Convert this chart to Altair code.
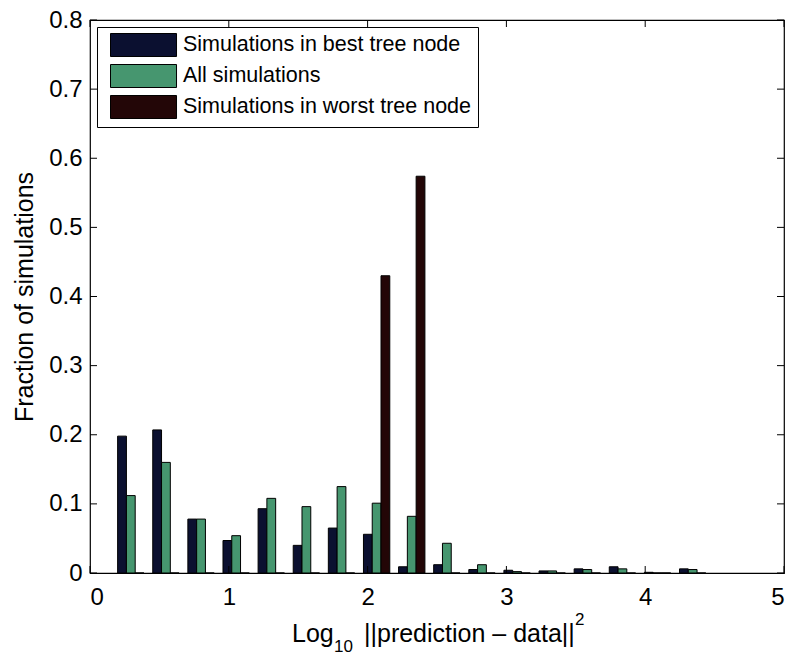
import altair as alt
import pandas as pd

# Histogram bin centres (log10 of squared error)
bin_centers = [0.294, 0.547, 0.800, 1.053, 1.306, 1.559, 1.812, 2.065, 2.318,
               2.571, 2.824, 3.077, 3.330, 3.583, 3.836, 4.089, 4.342]

# Fraction of simulations falling in each bin
best_node = [0.198, 0.207, 0.078, 0.047, 0.093, 0.040, 0.065, 0.056, 0.009,
             0.012, 0.005, 0.004, 0.003, 0.006, 0.009, 0.001, 0.006]
all_sims = [0.112, 0.160, 0.078, 0.054, 0.108, 0.096, 0.125, 0.101, 0.082,
            0.043, 0.012, 0.002, 0.003, 0.005, 0.006, 0.000, 0.005]
worst_node = [0.0, 0.0, 0.0, 0.0, 0.0, 0.0, 0.0, 0.430, 0.574,
              0.0, 0.0, 0.0, 0.0, 0.0, 0.0, 0.0, 0.0]

series_names = ["Simulations in best tree node", "All simulations",
                "Simulations in worst tree node"]
series_colors = ["#0b1030", "#46966f", "#230607"]

x_ticks = [0, 1, 2, 3, 4, 5]
y_ticks = [0, 0.1, 0.2, 0.3, 0.4, 0.5, 0.6, 0.7, 0.8]

# grouped bars: each bar is a quarter of the bin spacing wide
bin_step = bin_centers[1] - bin_centers[0]
bar_w = bin_step / 4.0
rows = []
for k, c in enumerate(bin_centers):
    for j, (name, vals) in enumerate(zip(series_names, [best_node, all_sims, worst_node])):
        left = c + (j - 1.5) * bar_w
        rows.append({"x0": left, "x1": left + bar_w, "value": vals[k],
                     "series": name, "order": j})
bars_df = pd.DataFrame(rows)

W, H = 694, 553
FONT = "Liberation Sans"

x_scale = alt.Scale(domain=[0, 5], nice=False, zero=False)
y_scale = alt.Scale(domain=[0, 0.8], nice=False)

# legend swatch: wide rectangle (66 x 23 px) drawn from a 23 px symbol
SW = 23
swatch_path = "M-0.39,-1H5.35V1H-0.39Z"

bars = alt.Chart(bars_df).mark_bar(stroke="black", strokeWidth=1).encode(
    x=alt.X("x0:Q", scale=x_scale,
            axis=alt.Axis(values=x_ticks, format="d", ticks=False, domain=False,
                          grid=False, labelFontSize=24, labelFont=FONT,
                          labelColor="black", labelPadding=12, title=None)),
    x2="x1:Q",
    y=alt.Y("value:Q", scale=y_scale,
            axis=alt.Axis(values=y_ticks, format=".1~f", ticks=False, domain=False,
                          grid=False, labelFontSize=24, labelFont=FONT,
                          labelColor="black", labelPadding=8,
                          title="Fraction of simulations",
                          titleFontSize=25, titleFont=FONT, titleFontWeight="normal",
                          titleColor="black", titlePadding=11)),
    y2=alt.datum(0),
    color=alt.Color("series:N",
                    scale=alt.Scale(domain=series_names, range=series_colors),
                    legend=alt.Legend(
                        title=None, orient="none", legendX=7, legendY=7,
                        symbolType=swatch_path, symbolSize=SW * SW,
                        symbolStrokeColor="black", symbolStrokeWidth=1,
                        symbolOpacity=1,
                        labelFontSize=21.5, labelFont=FONT, labelColor="black",
                        labelOffset=56, rowPadding=3, padding=6,
                        strokeColor="black", fillColor="white",
                        labelLimit=400)),
    order=alt.Order("order:Q"),
)

# inward tick marks on all four sides, as in a boxed plot
xt = pd.DataFrame({"t": x_ticks})
yt = pd.DataFrame({"t": y_ticks})
tick_len = 7
x_bottom = alt.Chart(xt).mark_rule(color="black").encode(
    x=alt.X("t:Q", scale=x_scale), y=alt.value(H), y2=alt.value(H - tick_len))
x_top = alt.Chart(xt).mark_rule(color="black").encode(
    x=alt.X("t:Q", scale=x_scale), y=alt.value(0), y2=alt.value(tick_len))
y_left = alt.Chart(yt).mark_rule(color="black").encode(
    y=alt.Y("t:Q", scale=y_scale), x=alt.value(0), x2=alt.value(tick_len))
y_right = alt.Chart(yt).mark_rule(color="black").encode(
    y=alt.Y("t:Q", scale=y_scale), x=alt.value(W), x2=alt.value(W - tick_len))

# x-axis title with a subscripted base and a squared norm
def title_piece(text, x, y, size):
    return alt.Chart(pd.DataFrame({"s": [text]})).mark_text(
        align="left", baseline="alphabetic", font=FONT, fontSize=size,
        color="black").encode(text="s:N", x=alt.value(x), y=alt.value(y))

x_title = alt.layer(
    title_piece("Log", 202, 622, 25),
    title_piece("10", 244, 632, 17),
    title_piece("||prediction – data||", 274, 622, 25),
    title_piece("2", 485, 605, 17),
)

chart = alt.layer(bars, x_bottom, x_top, y_left, y_right, x_title).properties(
    width=W, height=H,
    autosize="none",
    padding={"left": 90, "top": 20, "right": 18, "bottom": 85},
    background="white",
).configure_view(stroke="black", strokeWidth=1.2)

chart.save("out.html", embed_options={"renderer": "svg", "actions": False})
